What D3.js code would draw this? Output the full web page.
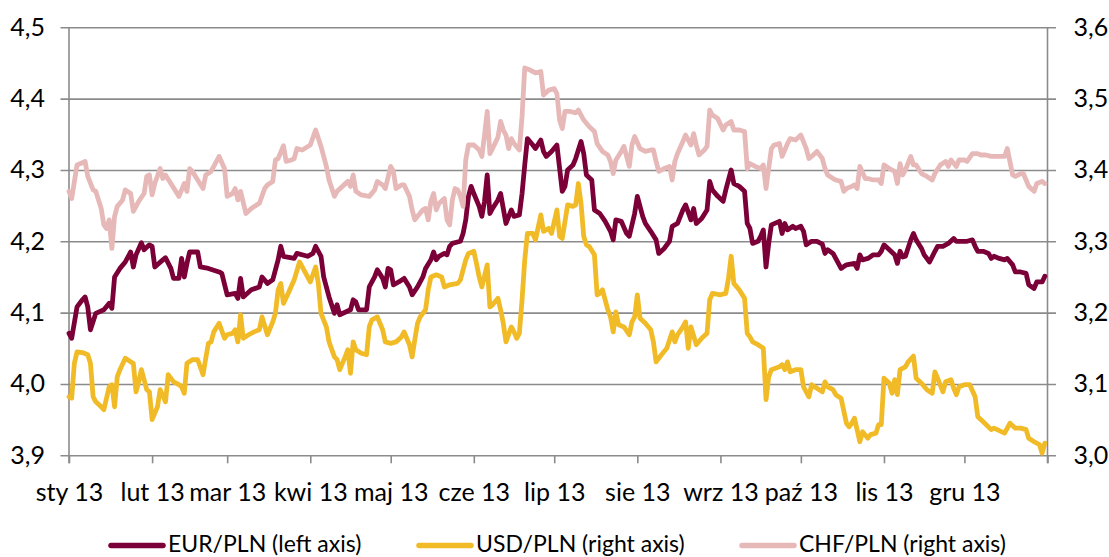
<!DOCTYPE html>
<html>
<head>
<meta charset="utf-8">
<script src="https://cdn.jsdelivr.net/npm/d3@7"></script>
<style>
  html, body { margin: 0; padding: 0; background: #fff; }
  svg { display: block; font-family: "Lato", "Open Sans", sans-serif; }
</style>
</head>
<body>
<svg id="chart" width="1109" height="557"></svg>
<script>
// daily rates in 2013: [day of year (0 = 1 Jan), rate]
const eurPln = [
  [0,4.071],[1,4.064],[3,4.108],[5,4.118],[6,4.122],[7,4.108],[8,4.076],[10,4.099],[13,4.104],[15,4.113],
  [16,4.106],[17,4.150],[19,4.162],[21,4.171],[23,4.185],[24,4.164],[25,4.181],[27,4.198],[28,4.188],[30,4.195],
  [31,4.193],[32,4.164],[35,4.174],[36,4.177],[38,4.162],[39,4.148],[41,4.148],[42,4.176],[43,4.150],[44,4.169],
  [45,4.185],[48,4.185],[49,4.164],[52,4.162],[56,4.157],[57,4.155],[59,4.125],[62,4.127],[63,4.120],[64,4.148],
  [65,4.122],[68,4.132],[71,4.136],[72,4.150],[74,4.141],[76,4.146],[78,4.174],[79,4.193],[80,4.179],[84,4.176],
  [85,4.183],[89,4.179],[91,4.183],[92,4.193],[94,4.179],[95,4.150],[96,4.136],[97,4.122],[99,4.099],[100,4.111],
  [101,4.097],[105,4.104],[106,4.118],[107,4.115],[108,4.104],[111,4.104],[112,4.136],[114,4.150],[115,4.160],[117,4.148],
  [118,4.136],[119,4.162],[120,4.160],[121,4.139],[123,4.143],[125,4.148],[127,4.136],[128,4.125],[130,4.136],[132,4.150],
  [133,4.162],[135,4.174],[136,4.185],[137,4.174],[138,4.179],[140,4.183],[141,4.181],[142,4.193],[143,4.197],[146,4.200],
  [147,4.211],[148,4.230],[149,4.263],[150,4.277],[151,4.267],[153,4.249],[154,4.235],[155,4.256],[156,4.293],[157,4.239],
  [158,4.246],[160,4.258],[161,4.267],[162,4.246],[163,4.225],[165,4.244],[166,4.235],[168,4.237],[169,4.267],[170,4.307],
  [171,4.344],[173,4.335],[174,4.330],[176,4.342],[177,4.326],[178,4.319],[180,4.326],[182,4.335],[184,4.270],[185,4.277],
  [186,4.300],[188,4.307],[189,4.316],[191,4.340],[192,4.323],[193,4.293],[195,4.286],[196,4.244],[198,4.239],[200,4.228],
  [202,4.214],[203,4.202],[204,4.230],[206,4.228],[208,4.211],[209,4.207],[211,4.239],[212,4.263],[214,4.235],[215,4.225],
  [217,4.214],[219,4.202],[220,4.183],[222,4.190],[224,4.200],[225,4.221],[227,4.225],[229,4.244],[230,4.251],[232,4.230],
  [233,4.246],[234,4.225],[236,4.232],[238,4.244],[239,4.284],[240,4.272],[242,4.263],[244,4.256],[245,4.272],[247,4.300],
  [248,4.281],[250,4.277],[252,4.270],[253,4.225],[254,4.218],[255,4.197],[257,4.200],[258,4.207],[259,4.216],[260,4.164],
  [261,4.197],[262,4.223],[265,4.228],[266,4.211],[267,4.225],[268,4.216],[270,4.221],[271,4.218],[273,4.221],[274,4.214],
  [275,4.195],[277,4.200],[279,4.200],[281,4.196],[282,4.183],[283,4.188],[285,4.183],[286,4.176],[288,4.162],[290,4.167],
  [293,4.169],[294,4.162],[295,4.181],[296,4.174],[298,4.176],[300,4.181],[302,4.181],[303,4.186],[304,4.195],[306,4.188],
  [308,4.181],[309,4.169],[310,4.186],[311,4.178],[312,4.179],[314,4.202],[315,4.211],[316,4.202],[318,4.190],[319,4.181],
  [321,4.171],[323,4.186],[324,4.193],[326,4.193],[328,4.197],[330,4.204],[331,4.200],[335,4.200],[337,4.202],[338,4.193],
  [339,4.186],[341,4.186],[343,4.183],[344,4.176],[345,4.179],[347,4.176],[349,4.174],[350,4.176],[352,4.167],[353,4.157],
  [355,4.157],[357,4.155],[358,4.139],[360,4.134],[361,4.143],[363,4.143],[364,4.151]
];

const usdPln = [
  [0,3.082],[1,3.080],[2,3.129],[3,3.145],[5,3.144],[7,3.141],[8,3.129],[9,3.082],[10,3.075],[12,3.068],
  [13,3.064],[15,3.096],[16,3.099],[17,3.068],[18,3.110],[19,3.120],[21,3.136],[23,3.131],[24,3.129],[25,3.089],
  [26,3.103],[27,3.120],[29,3.092],[30,3.089],[31,3.050],[33,3.068],[34,3.092],[36,3.075],[37,3.113],[39,3.103],
  [41,3.099],[42,3.096],[43,3.087],[44,3.129],[46,3.134],[48,3.134],[50,3.113],[51,3.136],[52,3.157],[53,3.159],
  [54,3.173],[56,3.185],[58,3.164],[59,3.169],[61,3.171],[62,3.176],[63,3.159],[64,3.197],[65,3.164],[67,3.169],
  [69,3.173],[71,3.176],[72,3.194],[74,3.169],[76,3.187],[77,3.199],[78,3.232],[79,3.241],[80,3.213],[82,3.229],
  [84,3.246],[86,3.271],[87,3.264],[90,3.243],[92,3.264],[93,3.241],[94,3.199],[96,3.180],[97,3.159],[99,3.138],
  [100,3.134],[101,3.120],[103,3.138],[104,3.148],[105,3.115],[106,3.159],[107,3.148],[109,3.143],[111,3.141],[112,3.180],
  [113,3.190],[115,3.194],[117,3.176],[118,3.159],[120,3.157],[122,3.159],[124,3.166],[125,3.173],[127,3.155],[128,3.138],
  [129,3.162],[130,3.185],[131,3.194],[133,3.204],[134,3.232],[135,3.250],[137,3.253],[139,3.250],[140,3.236],[142,3.239],
  [145,3.241],[146,3.246],[148,3.274],[149,3.283],[151,3.286],[152,3.269],[153,3.250],[154,3.236],[156,3.267],[157,3.208],
  [158,3.211],[160,3.220],[161,3.204],[162,3.185],[163,3.159],[165,3.180],[166,3.173],[167,3.164],[168,3.171],[169,3.218],
  [170,3.274],[171,3.311],[173,3.311],[174,3.302],[176,3.337],[177,3.314],[179,3.318],[180,3.311],[182,3.344],[183,3.307],
  [184,3.304],[186,3.351],[188,3.349],[189,3.351],[190,3.381],[191,3.353],[192,3.307],[193,3.295],[194,3.293],[196,3.281],
  [197,3.225],[198,3.227],[199,3.232],[200,3.218],[201,3.204],[202,3.194],[203,3.173],[204,3.201],[205,3.183],[207,3.180],
  [209,3.169],[210,3.187],[211,3.194],[212,3.225],[213,3.192],[215,3.185],[217,3.176],[218,3.159],[219,3.131],[221,3.141],
  [223,3.150],[225,3.173],[226,3.159],[227,3.169],[229,3.180],[230,3.187],[231,3.150],[232,3.180],[234,3.155],[236,3.164],
  [238,3.171],[239,3.218],[240,3.227],[243,3.225],[245,3.227],[246,3.248],[247,3.279],[248,3.241],[250,3.232],[252,3.220],
  [253,3.171],[254,3.166],[255,3.159],[257,3.155],[259,3.150],[260,3.078],[261,3.110],[262,3.120],[265,3.124],[266,3.127],
  [267,3.120],[268,3.131],[269,3.117],[271,3.120],[273,3.120],[274,3.096],[276,3.082],[277,3.099],[279,3.094],[281,3.089],
  [282,3.103],[283,3.096],[285,3.092],[286,3.085],[288,3.080],[290,3.045],[291,3.040],[292,3.045],[293,3.052],[295,3.019],
  [296,3.033],[298,3.024],[299,3.029],[301,3.031],[302,3.043],[303,3.043],[304,3.108],[306,3.101],[307,3.087],[308,3.106],
  [309,3.085],[310,3.120],[312,3.124],[313,3.131],[315,3.139],[316,3.108],[318,3.101],[320,3.092],[322,3.087],[323,3.117],
  [324,3.108],[326,3.089],[327,3.103],[329,3.106],[330,3.094],[331,3.085],[332,3.096],[334,3.099],[336,3.099],[338,3.082],
  [339,3.054],[341,3.047],[344,3.036],[345,3.038],[349,3.031],[351,3.045],[353,3.038],[355,3.038],[357,3.036],[358,3.024],
  [360,3.019],[362,3.015],[363,3.003],[364,3.017]
];

const chfPln = [
  [0,3.370],[1,3.360],[3,3.407],[5,3.410],[6,3.412],[7,3.391],[9,3.372],[10,3.370],[12,3.346],[13,3.323],
  [14,3.318],[15,3.330],[16,3.290],[17,3.335],[18,3.349],[20,3.358],[21,3.372],[23,3.367],[24,3.342],[26,3.356],
  [28,3.367],[29,3.391],[30,3.393],[31,3.365],[32,3.381],[34,3.402],[35,3.388],[36,3.393],[38,3.381],[41,3.363],
  [43,3.381],[44,3.370],[45,3.402],[46,3.398],[48,3.386],[50,3.374],[51,3.393],[53,3.398],[54,3.405],[56,3.419],
  [58,3.402],[59,3.363],[61,3.367],[62,3.374],[63,3.358],[64,3.370],[66,3.339],[68,3.346],[70,3.351],[71,3.353],
  [73,3.374],[74,3.379],[76,3.384],[77,3.414],[78,3.416],[80,3.434],[81,3.412],[83,3.414],[84,3.416],[85,3.430],
  [87,3.428],[90,3.435],[92,3.456],[94,3.433],[95,3.419],[96,3.405],[97,3.386],[99,3.363],[100,3.370],[102,3.377],
  [104,3.384],[105,3.377],[106,3.393],[107,3.370],[109,3.365],[112,3.363],[114,3.372],[115,3.384],[117,3.379],[118,3.374],
  [120,3.405],[121,3.398],[122,3.374],[124,3.379],[125,3.379],[127,3.363],[128,3.344],[129,3.330],[130,3.335],[132,3.344],
  [133,3.346],[134,3.330],[135,3.356],[136,3.367],[137,3.344],[138,3.353],[140,3.360],[141,3.330],[142,3.323],[143,3.358],
  [144,3.374],[145,3.372],[146,3.363],[147,3.349],[148,3.414],[149,3.435],[151,3.435],[153,3.428],[154,3.419],[155,3.449],
  [156,3.482],[157,3.423],[158,3.430],[160,3.446],[161,3.468],[162,3.456],[163,3.449],[164,3.430],[165,3.444],[166,3.437],
  [168,3.428],[169,3.475],[170,3.543],[172,3.540],[174,3.536],[176,3.538],[177,3.505],[179,3.512],[181,3.514],[182,3.507],
  [183,3.470],[184,3.458],[185,3.482],[187,3.482],[189,3.480],[190,3.484],[192,3.470],[194,3.461],[196,3.454],[197,3.437],
  [199,3.426],[201,3.421],[202,3.412],[203,3.395],[204,3.414],[206,3.426],[207,3.433],[208,3.419],[209,3.405],[210,3.435],
  [211,3.447],[213,3.430],[215,3.426],[217,3.428],[218,3.428],[219,3.412],[220,3.398],[222,3.402],[224,3.405],[225,3.386],
  [226,3.412],[227,3.423],[229,3.440],[230,3.449],[232,3.435],[233,3.451],[234,3.435],[235,3.421],[237,3.428],[238,3.433],
  [239,3.484],[240,3.477],[242,3.472],[244,3.456],[245,3.463],[247,3.468],[248,3.456],[250,3.456],[252,3.454],[253,3.402],
  [254,3.409],[256,3.405],[258,3.402],[259,3.407],[260,3.374],[261,3.402],[262,3.430],[263,3.435],[265,3.437],[266,3.419],
  [268,3.437],[269,3.444],[271,3.442],[273,3.449],[275,3.430],[276,3.416],[277,3.419],[279,3.426],[281,3.416],[282,3.402],
  [283,3.393],[285,3.388],[286,3.386],[288,3.384],[289,3.370],[290,3.374],[292,3.377],[293,3.379],[294,3.374],[295,3.405],
  [297,3.388],[298,3.388],[300,3.386],[302,3.386],[303,3.381],[304,3.407],[306,3.402],[308,3.398],[309,3.381],[310,3.409],
  [311,3.393],[312,3.400],[314,3.419],[315,3.407],[316,3.407],[318,3.395],[320,3.391],[322,3.386],[323,3.395],[325,3.407],
  [327,3.412],[328,3.405],[329,3.414],[331,3.405],[332,3.414],[334,3.414],[335,3.412],[337,3.423],[339,3.423],[340,3.421],
  [342,3.421],[344,3.419],[349,3.419],[350,3.430],[352,3.393],[353,3.391],[355,3.395],[356,3.395],[357,3.386],[358,3.377],
  [360,3.370],[361,3.381],[363,3.384],[364,3.381]
];

const monthLabels = ["sty 13","lut 13","mar 13","kwi 13","maj 13","cze 13","lip 13","sie 13","wrz 13","paź 13","lis 13","gru 13"];
const leftTicks  = [3.9, 4.0, 4.1, 4.2, 4.3, 4.4, 4.5];
const rightTicks = [3.0, 3.1, 3.2, 3.3, 3.4, 3.5, 3.6];

const series = [
  { name: "EUR/PLN (left axis)",  data: eurPln, axis: "left",  color: "#7b0037" },
  { name: "USD/PLN (right axis)", data: usdPln, axis: "right", color: "#f1bb28" },
  { name: "CHF/PLN (right axis)", data: chfPln, axis: "right", color: "#e6b9b8" }
];

const svg = d3.select("#chart");
const plot = { left: 69, right: 1047.5, top: 27.3, bottom: 455.3 };
const gridColor = "#8b8b8b";
const fmt = v => d3.format(".1f")(v).replace(".", ",");
const day = d => new Date(Date.UTC(2013, 0, 1 + d));

const x = d3.scaleUtc()
  .domain([day(0), day(365)])
  .range([plot.left, plot.right]);
const yL = d3.scaleLinear().domain([3.9, 4.5]).range([plot.bottom, plot.top]);
const yR = d3.scaleLinear().domain([3.0, 3.6]).range([plot.bottom, plot.top]);

// horizontal gridlines, reaching out past both axes as tick marks
svg.append("g")
  .attr("transform", `translate(${plot.right + 8.5},0)`)
  .call(d3.axisLeft(yL).tickValues(leftTicks).tickSize(plot.right - plot.left + 17).tickFormat(""))
  .call(g => g.select(".domain").remove())
  .call(g => g.selectAll(".tick line").attr("stroke", gridColor).attr("stroke-width", 1.6));

// left axis
svg.append("g")
  .attr("transform", `translate(${plot.left},0)`)
  .call(d3.axisLeft(yL).tickValues(leftTicks).tickSize(0).tickPadding(24).tickFormat(fmt))
  .call(g => g.select(".domain").attr("stroke", gridColor).attr("stroke-width", 1.6)
              .attr("d", `M0,${plot.top}V${plot.bottom + 8}`))
  .call(g => g.selectAll("text").attr("font-size", 25).attr("fill", "#000")
              .attr("font-family", "Lato, 'Open Sans', sans-serif"));

// right axis
svg.append("g")
  .attr("transform", `translate(${plot.right},0)`)
  .call(d3.axisRight(yR).tickValues(rightTicks).tickSize(0).tickPadding(26).tickFormat(fmt))
  .call(g => g.select(".domain").attr("stroke", gridColor).attr("stroke-width", 1.6)
              .attr("d", `M0,${plot.top}V${plot.bottom + 8}`))
  .call(g => g.selectAll("text").attr("font-size", 25).attr("fill", "#000")
              .attr("font-family", "Lato, 'Open Sans', sans-serif"));

// month axis
const monthTicks = d3.utcMonth.range(day(0), day(366));
svg.append("g")
  .attr("transform", `translate(0,${plot.bottom})`)
  .call(d3.axisBottom(x).tickValues(monthTicks).tickSize(8).tickPadding(20)
          .tickFormat((d, i) => monthLabels[i] || ""))
  .call(g => g.select(".domain").remove())
  .call(g => g.selectAll(".tick line").attr("stroke", gridColor).attr("stroke-width", 1.6))
  .call(g => g.selectAll("text").attr("font-size", 25).attr("fill", "#000")
              .attr("font-family", "Lato, 'Open Sans', sans-serif"));

// lines
const lineL = d3.line().x(d => x(day(d[0]))).y(d => yL(d[1]));
const lineR = d3.line().x(d => x(day(d[0]))).y(d => yR(d[1]));

svg.append("g").selectAll("path")
  .data(series)
  .join("path")
    .attr("d", s => (s.axis === "left" ? lineL : lineR)(s.data))
    .attr("fill", "none")
    .attr("stroke", s => s.color)
    .attr("stroke-width", 4.8)
    .attr("stroke-linejoin", "round")
    .attr("stroke-linecap", "round");

// legend
const legendX = [109, 417, 740];
const legend = svg.append("g").attr("transform", "translate(0,545.5)");
series.forEach((s, i) => {
  const row = legend.append("g").attr("transform", `translate(${legendX[i]},0)`);
  row.append("line").attr("x1", 2).attr("x2", 54)
     .attr("stroke", s.color).attr("stroke-width", 5.5).attr("stroke-linecap", "round");
  row.append("text").attr("x", 59).attr("y", 6.5)
     .attr("font-size", 23).attr("fill", "#000")
     .text(s.name);
});
</script>
</body>
</html>
